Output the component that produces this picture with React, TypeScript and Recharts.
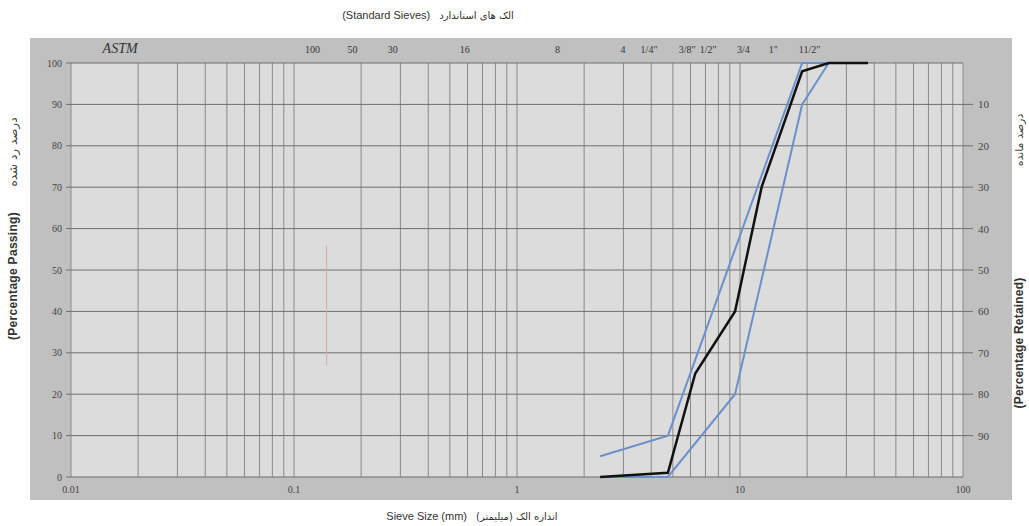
import React from 'react';
import { ComposedChart, Line, XAxis, YAxis, CartesianGrid, ReferenceLine } from 'recharts';

// Sieve openings (mm) of the tested fractions
const sieveSizes = [2.36, 4.75, 6.3, 9.5, 12.5, 19, 25, 37.5];
// Gradation of the sample, % passing
const passing = [0, 1, 25, 40, 70, 98, 100, 100];
// Specification band, % passing (null where the band has no point)
const upperLimit = [5, 10, null, 55, null, 100, 100, null];
const lowerLimit = [0, 0, null, 20, null, 90, 100, null];

// Log axis: decades and the minor steps inside each decade
const sizeDecades = [0.01, 0.1, 1, 10, 100];
const decadeLabels = ['0.01', '0.1', '1', '10', '100'];
const decadeSteps = [1, 2, 3, 4, 5, 6, 7, 8, 9];

const passingTicks = [0, 10, 20, 30, 40, 50, 60, 70, 80, 90, 100];
const retainedTicks = [10, 20, 30, 40, 50, 60, 70, 80, 90];

// Standard sieve names written along the top, with where each name sits on the size axis (mm)
const sieveNames = ['ASTM', '100', '50', '30', '16', '8', '4', '1/4"', '3/8"', '1/2"', '3/4', '1"', '11/2"'];
const sieveNamePositions = [0.0166, 0.121, 0.183, 0.277, 0.583, 1.52, 2.99, 3.91, 5.8, 7.2, 10.35, 14.1, 20.5];

const rows = sieveSizes.map((size, i) => ({
  size,
  passing: passing[i],
  retained: 100 - passing[i],
  upper: upperLimit[i],
  lower: lowerLimit[i],
}));

const gridTicks = sizeDecades
  .slice(0, -1)
  .flatMap((d) => decadeSteps.map((s) => Number((d * s).toPrecision(2))))
  .concat([sizeDecades[sizeDecades.length - 1]]);

const formatSize = (v: number) => {
  const i = sizeDecades.findIndex((d) => Math.abs(d - v) < 1e-9);
  return i >= 0 ? decadeLabels[i] : '';
};

const SieveTick = (props: any) => {
  const { x, y, payload } = props;
  const i = sieveNamePositions.indexOf(payload.value);
  const name = sieveNames[i];
  if (!name) return null;
  const astm = name === 'ASTM';
  return (
    <text
      x={x}
      y={y}
      textAnchor="middle"
      fontFamily="'Liberation Serif', serif"
      fontSize={astm ? 14 : 10}
      fontStyle={astm ? 'italic' : 'normal'}
      fill="#333"
    >
      {name}
    </text>
  );
};

const narrow = "'Liberation Sans Narrow', 'Liberation Sans', 'DejaVu Sans', sans-serif";
const persian = "'DejaVu Sans', 'Noto Sans', sans-serif";

export default function App() {
  return (
    <div style={{ position: 'absolute', left: 0, top: 0, width: 1029, height: 526, background: '#fff', overflow: 'hidden' }}>
      {/* chart panel */}
      <div style={{ position: 'absolute', left: 30, top: 38, width: 982, height: 462, background: '#c0c0c0' }} />

      {/* top title */}
      <div style={{ position: 'absolute', left: 0, width: 856, top: 9, display: 'flex', justifyContent: 'center', alignItems: 'baseline', gap: 9, fontSize: 11, color: '#333', whiteSpace: 'nowrap' }}>
        <span style={{ fontFamily: narrow }}>(Standard Sieves)</span>
        <span style={{ fontFamily: persian, fontSize: 10, direction: 'rtl' }}>الک های استاندارد</span>
      </div>

      {/* bottom title */}
      <div style={{ position: 'absolute', left: 0, width: 944, top: 510, display: 'flex', justifyContent: 'center', alignItems: 'baseline', gap: 9, fontSize: 11, color: '#333', whiteSpace: 'nowrap' }}>
        <span style={{ fontFamily: narrow }}>Sieve Size (mm)</span>
        <span style={{ fontFamily: persian, fontSize: 10, direction: 'rtl' }}>اندازه الک (میلیمتر)</span>
      </div>

      {/* left title */}
      <div style={{ position: 'absolute', left: 13, top: 276, transform: 'translate(-50%, -50%) rotate(-90deg)', fontFamily: "'Liberation Sans', sans-serif", fontWeight: 600, fontSize: 12, color: '#333', whiteSpace: 'nowrap', letterSpacing: 0.3 }}>
        (Percentage Passing)
      </div>
      <div style={{ position: 'absolute', left: 13, top: 152, transform: 'translate(-50%, -50%) rotate(-90deg)', fontFamily: persian, fontSize: 12, color: '#444', whiteSpace: 'nowrap', direction: 'rtl' }}>
        درصد رد شده
      </div>

      {/* right title */}
      <div style={{ position: 'absolute', left: 1019, top: 343, transform: 'translate(-50%, -50%) rotate(-90deg)', fontFamily: "'Liberation Sans', sans-serif", fontWeight: 600, fontSize: 12, color: '#333', whiteSpace: 'nowrap', letterSpacing: 0.2 }}>
        (Percentage Retained)
      </div>
      <div style={{ position: 'absolute', left: 1019, top: 140, transform: 'translate(-50%, -50%) rotate(-90deg)', fontFamily: persian, fontSize: 11, color: '#444', whiteSpace: 'nowrap', direction: 'rtl' }}>
        درصد مانده
      </div>

      <div style={{ position: 'absolute', left: 0, top: 0 }}>
        <ComposedChart width={1029} height={526} data={rows} margin={{ top: 0, right: 0, bottom: 0, left: 0 }}>
          <CartesianGrid xAxisId="size" yAxisId="pass" horizontal={false} stroke="#8a8a8a" fill="#dcdcdc" fillOpacity={1} />
          <CartesianGrid xAxisId="size" yAxisId="pass" vertical={false} stroke="#6e6e6e" />

          <XAxis
            xAxisId="size"
            dataKey="size"
            type="number"
            scale="log"
            domain={[0.01, 100]}
            allowDataOverflow
            ticks={gridTicks}
            interval={0}
            tickFormatter={formatSize}
            tickLine={false}
            axisLine={false}
            height={49}
            tickMargin={3}
            tick={{ fontFamily: "'Liberation Serif', serif", fontSize: 10, fill: '#444' }}
          />
          <XAxis
            xAxisId="sieves"
            dataKey="size"
            orientation="top"
            type="number"
            scale="log"
            domain={[0.01, 100]}
            allowDataOverflow
            ticks={sieveNamePositions}
            interval={0}
            tickLine={false}
            axisLine={false}
            height={63}
            tickMargin={4}
            tick={<SieveTick />}
          />
          <YAxis
            yAxisId="pass"
            type="number"
            domain={[0, 100]}
            ticks={passingTicks}
            interval={0}
            width={71}
            axisLine={false}
            tickLine={{ stroke: '#6e6e6e' }}
            tickSize={5}
            tickMargin={4}
            tick={{ fontFamily: "'Liberation Serif', serif", fontSize: 10, fill: '#444' }}
          />
          <YAxis
            yAxisId="ret"
            orientation="right"
            type="number"
            domain={[0, 100]}
            reversed
            ticks={retainedTicks}
            interval={0}
            width={66}
            axisLine={false}
            tickLine={{ stroke: '#6e6e6e' }}
            tickSize={10}
            tickMargin={5}
            tick={{ fontFamily: "'Liberation Serif', serif", fontSize: 11, fill: '#444' }}
          />

          <ReferenceLine
            xAxisId="size"
            yAxisId="pass"
            segment={[{ x: 0.14, y: 27 }, { x: 0.14, y: 56 }]}
            stroke="#d9a9ad"
            strokeWidth={1}
          />

          {/* retained curve on the top/right axes; coincides with the passing curve, kept transparent */}
          <Line xAxisId="sieves" yAxisId="ret" dataKey="retained" stroke="transparent" strokeWidth={0} dot={false} activeDot={false} legendType="none" isAnimationActive={false} />

          <Line xAxisId="size" yAxisId="pass" dataKey="upper" connectNulls stroke="#6b90cc" strokeWidth={2} dot={false} isAnimationActive={false} />
          <Line xAxisId="size" yAxisId="pass" dataKey="lower" connectNulls stroke="#6b90cc" strokeWidth={2} dot={false} isAnimationActive={false} />
          <Line xAxisId="size" yAxisId="pass" dataKey="passing" stroke="#111" strokeWidth={2.5} dot={false} isAnimationActive={false} />
        </ComposedChart>
      </div>
    </div>
  );
}
